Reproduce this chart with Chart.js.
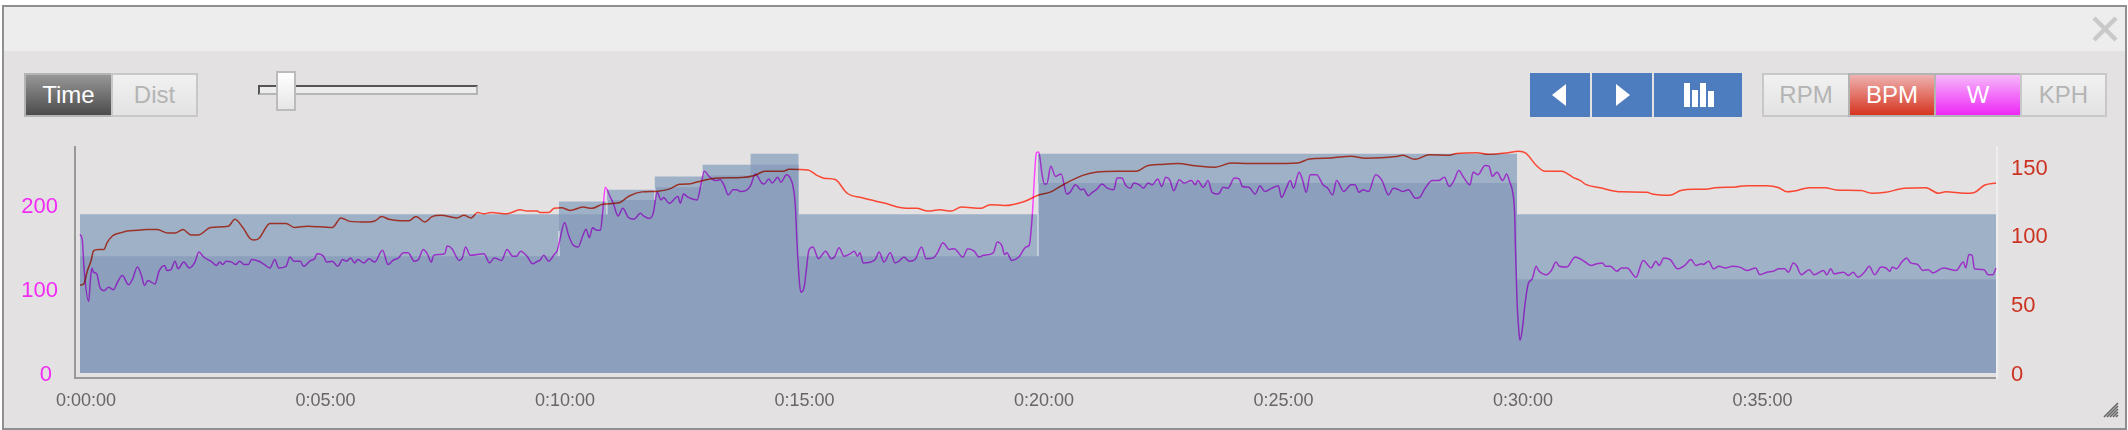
<!DOCTYPE html>
<html>
<head>
<meta charset="utf-8">
<title>Workout</title>
<script src="https://cdn.jsdelivr.net/npm/chart.js@4"></script>
<style>
html, body { margin: 0; padding: 0; background: #fff; }
body { width: 2128px; height: 430px; overflow: hidden; font-family: "Liberation Sans", sans-serif; position: relative; }
.abs { position: absolute; box-sizing: border-box; }
#panel { left: 2px; top: 5px; width: 2125px; height: 425px; border: 2px solid #8f8f8f; background: #e3e1e2; }
#head { left: 4px; top: 7px; width: 2121px; height: 44px; background: #ededed; }
#chart { position: absolute; left: 0; top: 0; }
.btn { top: 73px; height: 44px; border: 2px solid #c8c8c8; text-align: center; font-size: 24px; line-height: 40px; color: #b4b4b4; background: linear-gradient(#f1f1f1, #e3e3e3); }
.nav { top: 73px; height: 44px; background: #4d7cbf; }
.tri { width: 0; height: 0; top: 84px; border-top: 11px solid transparent; border-bottom: 11px solid transparent; }
.bar { background: #fff; width: 6px; }
</style>
</head>
<body>
<div class="abs" id="panel"></div>
<div class="abs" id="head"></div>
<svg class="abs" style="left:2092px;top:16px" width="26" height="26" viewBox="0 0 26 26">
  <path d="M2 2 L24 24 M24 2 L2 24" stroke="#c9c9c9" stroke-width="4.5" fill="none"/>
</svg>

<div class="abs btn" style="left:24px;width:89px;color:#fff;border-color:#b4b4b4;background:linear-gradient(#979797,#4c4c4c)">Time</div>
<div class="abs btn" style="left:111px;width:87px">Dist</div>

<div class="abs" style="left:258px;top:85px;width:220px;height:10px;background:#ececec;border:2px solid #b5b5b5;border-top-color:#555;border-left-color:#555"></div>
<div class="abs" style="left:276px;top:71px;width:20px;height:40px;border:2px solid #bbb;background:linear-gradient(#fff,#e6e6e6)"></div>

<div class="abs nav" style="left:1530px;width:60px"></div>
<div class="abs nav" style="left:1592px;width:60px"></div>
<div class="abs nav" style="left:1654px;width:88px"></div>
<div class="abs tri" style="left:1552px;border-right:14px solid #fff"></div>
<div class="abs tri" style="left:1616px;border-left:14px solid #fff"></div>
<div class="abs bar" style="left:1684px;top:83px;height:24px"></div>
<div class="abs bar" style="left:1692px;top:90px;height:17px"></div>
<div class="abs bar" style="left:1700px;top:83px;height:24px"></div>
<div class="abs bar" style="left:1708px;top:91px;height:16px"></div>

<div class="abs btn" style="left:1762px;width:88px">RPM</div>
<div class="abs btn" style="left:1848px;width:88px;color:#fff;border-color:#b4b4b4;background:linear-gradient(#efb2b0,#d5341f)">BPM</div>
<div class="abs btn" style="left:1934px;width:88px;color:#fff;border-color:#b4b4b4;background:linear-gradient(#f6b8fb,#ee28f6)">W</div>
<div class="abs btn" style="left:2020px;width:87px">KPH</div>

<svg class="abs" style="left:2103px;top:402px" width="16" height="16" viewBox="0 0 16 16">
  <path d="M15 1 L1 15 M15 4 L4 15 M15 7 L7 15 M15 10 L10 15 M15 13 L13 15" stroke="#666" stroke-width="1.6" fill="none"/>
</svg>

<canvas id="chart" width="2128" height="430"></canvas>

<script>
// interval blocks: start of each block, last entry closes the final one
const blockSec = [0, 600, 660, 720, 780, 840, 900, 1200, 1800, 2400];
const blockHigh = [189, 204, 218, 234, 248, 261, 189, 261, 189, 189];
const blockLow = [139, 189, 206, 221, 235, 248, 139, 226, 111.5, 111.5];

// light seams where neighbouring blocks meet
const seamSec = [600, 600, 660, 660, 720, 720, 1200, 1200];
const seamTop = [169, 206, 221, 226];
const seamBottom = [139, 189, 206, 139];

const wattSec = [
  0,3,5,11,13,15,17,21,25,30,
  36,42,47,53,61,66,72,77,81,85,
  94,99,106,109,114,119,123,130,137,144,
  149,155,164,171,175,179,183,190,195,200,
  206,211,215,224,231,238,244,249,258,263,
  268,276,280,289,294,297,305,309,316,323,
  329,334,339,344,348,356,362,369,379,386,
  392,399,405,411,419,424,430,435,440,443,
  450,457,460,466,475,479,483,489,506,513,
  519,528,535,542,547,552,560,567,573,
  576,581,587,594,598,601,607,612,618,624,
  630,634,638,642,647,652,655,658,664,668,
  674,680,687,694,702,706,713,718,723,728,
  731,738,749,752,756,762,773,778,782,789,
  796,802,807,812,818,823,827,834,840,846,
  854,857,863,867,874,878,885,889,893,896,
  898,901,903,907,910,913,918,925,934,941,
  945,951,957,965,970,974,977,981,996,1001,
  1007,1015,1021,1026,1032,1039,1046,1054,1060,1069,
  1074,1081,1089,1095,1106,1112,1120,1126,1132,1144,
  1149,1155,1158,1161,1167,1176,1185,1189,1193,1196,
  1198,1201,1205,1208,1211,
  1216,1222,1229,1236,1240,1247,1254,1257,1263,1267,
  1274,1280,1287,1295,1299,1305,1310,1316,1320,1327,
  1332,1338,1343,1350,1355,1360,1365,1370,1377,1383,
  1392,1397,1400,1407,1413,1418,1426,1432,1438,1446,
  1452,1456,1464,1472,1478,1484,1493,1501,1505,1511,
  1516,1520,1527,1531,1536,1541,1549,1557,1563,1569,
  1574,1583,1592,1597,1602,1607,1614,1623,1631,1639,
  1645,1652,1657,1664,1673,1678,1685,1694,1702,1709,
  1715,1721,1727,1733,1741,1745,1751,1760,1765,1769,
  1775,1782,1787,1791,1795,1797,1798,1800,1803,1804,
  1807,1810,1814,1819,1824,1827,1837,1843,1849,1853,
  1862,
  1864,1873,1884,1893,1900,1907,1911,1917,1925,1931,
  1938,1949,1958,1968,1974,1978,1984,1992,2001,2010,
  2018,2024,2031,2033,2040,2046,2053,2061,2070,2079,
  2088,2099,2104,2113,2121,2128,2135,2140,2146,2150,
  2156,2166,2172,2184,2188,2193,2197,2209,2215,2221,
  2227,2236,2241,2248,2256,2262,2267,2270,2275,2282,
  2288,2293,2302,2308,2315,2321,2334,2350,2359,2362,
  2366,2370,2373,2385,2390,2396,2400
];
const wattVal = [
  165,158,126,85,110,125,120,118,102,98,
  102,99,108,116,105,112,126,116,104,110,
  106,121,128,122,123,133,124,132,125,132,
  144,138,133,128,132,129,133,132,129,133,
  129,129,135,133,129,125,135,125,127,138,
  133,133,127,134,136,142,139,132,133,127,
  135,133,137,131,135,131,136,132,146,129,
  134,137,143,143,133,135,147,142,132,140,
  141,142,151,148,134,137,150,140,142,131,
  137,134,147,139,139,145,139,130,133,
  134,140,133,141,146,158,179,164,152,150,
  164,171,161,173,170,170,194,221,210,202,
  187,196,185,183,190,187,184,190,215,206,
  209,202,210,202,213,209,206,225,240,233,
  229,230,223,212,218,218,216,217,223,237,
  226,225,231,226,233,227,236,233,223,200,
  158,110,96,102,124,146,150,136,145,136,
  138,149,139,142,145,139,143,131,135,144,
  132,143,131,133,138,133,135,150,136,137,
  143,155,147,148,138,148,145,138,140,143,
  156,151,141,143,134,138,150,152,190,241,
  262,263,237,225,225,
  246,234,237,213,215,224,218,219,211,214,
  219,225,220,218,232,232,223,220,226,224,
  220,226,224,231,222,233,230,217,230,226,
  229,224,229,221,229,215,213,221,220,232,
  231,222,221,213,223,216,220,223,209,220,
  229,220,239,231,215,236,236,224,220,212,
  229,216,224,224,215,218,216,236,229,212,
  220,218,216,218,208,209,220,229,229,233,
  222,229,241,233,224,239,236,247,246,234,
  239,229,237,227,213,190,150,86,43,39,
  55,82,106,112,127,122,117,122,132,127,
  126,
  127,138,133,128,130,131,127,127,121,125,
  125,114,134,125,133,128,137,135,124,128,
  135,128,130,129,133,124,127,125,127,126,
  122,125,117,120,121,124,124,120,131,128,
  117,123,117,122,117,124,118,120,116,120,
  114,121,127,117,126,125,121,126,124,132,
  137,131,129,122,123,119,125,122,132,125,
  141,140,124,123,117,117,125
];

const bpmSec = [
  0,5,9,14,17,23,30,34,41,50,
  59,72,83,97,110,119,129,139,148,164,
  186,194,204,213,218,224,238,258,269,285,
  316,327,338,361,370,378,387,401,412,421,
  432,441,452,472,481,490,498,506,515,535,
  551,560,573,
  576,587,594,603,614,630,641,655,675,688,
  704,724,738,751,765,778,796,829,845,858,
  881,888,912,923,932,946,961,981,1006,1035,
  1048,1062,1077,1091,1104,1129,1140,1158,1183,1200,
  1216,1234,1256,1274,
  1299,1323,1337,1355,1375,1397,1422,1442,1464,1491,
  1525,1540,1567,1592,1610,1648,1657,1672,1690,1715,
  1724,1750,1764,1786,1802,1811,1824,1835,1856,1864,
  1869,1880,
  1886,1904,1931,1963,1969,1991,2005,2021,2036,2048,
  2074,2088,2113,2128,2138,2148,2166,2186,2200,2231,
  2244,2262,2285,2312,2328,2337,2361,2372,2386,2400
];
const bpmVal = [
  64,65,74,82,89,90,90,95,100,102,
  103.5,104,104.5,104.5,102,102,104.5,100.6,100.6,106,
  107,112,106,98,97,98,109,109,106,107,
  106,113,110.5,110,111,114,112,111,111,114,
  110,114,115,113,115,113,117,116,117,116,
  119,118,118,
  117,117,120,120.5,118.5,121,120,123,124,129,
  132,132.5,134,137.5,138,140,142,142.5,144,147,
  147,148.5,148,144,142,141,131,127.5,124,120,
  120,118,119,118,121,120,122.7,122,125,129.5,
  132,138,144,146.5,
  147,147,151,152,152.6,151,150,153,152.6,152.6,
  153,156,156.7,158,156.5,157.7,158.7,155.7,159,158.7,
  160,160.6,159.4,160.3,161.6,160.3,151.4,147,147,145,
  143,140,
  137.5,135,132,131.7,130.5,129.5,133,134,134,135,
  135.6,136.5,136.5,135,132,132.7,135,135,133.4,133,
  131,131.7,134.6,135,131,132,131,131.4,137,138.5
];

const timeTicks = [0, 300, 600, 900, 1200, 1500, 1800, 2100];
const timeLabels = ["0:00:00", "0:05:00", "0:10:00", "0:15:00", "0:20:00", "0:25:00", "0:30:00", "0:35:00"];
const wattTicks = [0, 100, 200];
const bpmTicks = [0, 50, 100, 150];

function toPoints(xs, ys)
{
  return xs.map((x, i) => ({x: x, y: ys[i]}));
}

function seamPoints()
{
  let pts = [];
  seamTop.forEach((top, i) => {
    pts.push({x: seamSec[i * 2], y: top}, {x: seamSec[i * 2 + 1], y: seamBottom[i]}, {x: seamSec[i * 2], y: null});
  });
  return pts;
}

// the traces tint where they cross the blocks, the canvas is transparent so
// outside the blocks they keep their own colour
const multiplyTraces = {
  id: "multiplyTraces",
  beforeDatasetDraw(chart, args) {
    if (chart.data.datasets[args.index].trace) chart.ctx.globalCompositeOperation = "multiply";
  },
  afterDatasetDraw(chart) {
    chart.ctx.globalCompositeOperation = "source-over";
  }
};

const font = "'Liberation Sans', sans-serif";

new Chart(document.getElementById("chart"), {
  type: "line",
  plugins: [multiplyTraces],
  data: {
    datasets: [
      {
        label: "Target high", data: toPoints(blockSec, blockHigh), yAxisID: "y", order: 5,
        stepped: true, borderWidth: 0, pointRadius: 0, fill: {value: 0}, backgroundColor: "#9fb1c7"
      },
      {
        label: "Target low", data: toPoints(blockSec, blockLow), yAxisID: "y", order: 4,
        stepped: true, borderWidth: 0, pointRadius: 0, fill: {value: 0}, backgroundColor: "#8ca0bd"
      },
      {
        label: "Seams", data: seamPoints(), yAxisID: "y", order: 3,
        borderColor: "rgba(226,229,236,0.75)", borderWidth: 1.5, pointRadius: 0, spanGaps: false
      },
      {
        label: "BPM", data: toPoints(bpmSec, bpmVal), yAxisID: "y2", order: 2, trace: true,
        borderColor: "#fa4632", borderWidth: 1.5, pointRadius: 0, cubicInterpolationMode: "monotone"
      },
      {
        label: "W", data: toPoints(wattSec, wattVal), yAxisID: "y", order: 1, trace: true,
        borderColor: "#fa46ff", borderWidth: 1.5, pointRadius: 0, cubicInterpolationMode: "monotone"
      }
    ]
  },
  options: {
    responsive: false,
    animation: false,
    layout: {padding: {top: 147, left: 0, right: 0, bottom: 0}},
    plugins: {legend: {display: false}, tooltip: {enabled: false}},
    scales: {
      x: {
        type: "linear",
        min: -6.2,
        max: 2401.2,
        grid: {display: false, drawTicks: false},
        border: {color: "#999", width: 2},
        afterBuildTicks: (s) => { s.ticks = timeTicks.map((v) => ({value: v})); },
        afterFit: (s) => { s.height = 52; },
        ticks: {
          autoSkip: false, maxRotation: 0, labelOffset: 6, padding: 12, color: "#666",
          font: {family: font, size: 18},
          callback: (v) => timeLabels[timeTicks.indexOf(v)]
        }
      },
      y: {
        position: "left",
        min: -6,
        max: 269,
        grid: {display: false, drawTicks: false},
        border: {color: "#999", width: 2},
        afterBuildTicks: (s) => { s.ticks = wattTicks.map((v) => ({value: v})); },
        afterFit: (s) => { s.width = 75; },
        ticks: {
          labelOffset: 2, padding: 17, color: "#f22cf5",
          font: {family: font, size: 22},
          callback: (v) => v === 0 ? "0\u00a0" : String(v)
        }
      },
      y2: {
        position: "right",
        min: -3.64,
        max: 164.7,
        grid: {display: false, drawTicks: false},
        border: {color: "#efeeee", width: 2},
        afterBuildTicks: (s) => { s.ticks = bpmTicks.map((v) => ({value: v})); },
        afterFit: (s) => { s.width = 131; },
        ticks: {
          labelOffset: 1.5, padding: 14, color: "#cc3322",
          font: {family: font, size: 22}
        }
      }
    }
  }
});
</script>
</body>
</html>
